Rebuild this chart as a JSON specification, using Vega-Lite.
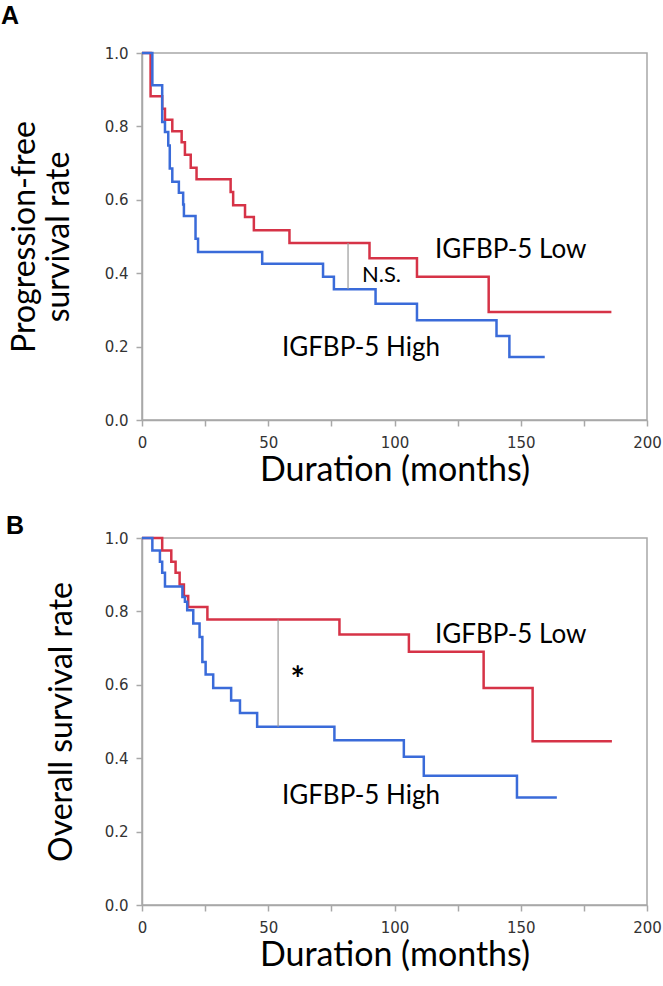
{
  "$schema": "https://vega.github.io/schema/vega-lite/v6.json",
  "background": "white",
  "padding": {"left": 0, "top": 3, "right": 0, "bottom": 0},
  "autosize": {"type": "pad"},
  "spacing": 118,
  "bounds": "flush",
  "config": {
    "view": {"stroke": "#a8a8a8", "strokeWidth": 1.5},
    "axis": {
      "grid": false,
      "domainColor": "#a8a8a8",
      "domainWidth": 1.5,
      "tickColor": "#a8a8a8",
      "tickWidth": 1.5,
      "tickSize": 6,
      "labelFont": "DejaVu Sans",
      "labelFontSize": 15,
      "labelColor": "#333333",
      "labelFlush": false,
      "titleFont": "Lato",
      "titleFontSize": 32,
      "titleFontWeight": "normal",
      "titleColor": "black"
    }
  },
  "datasets": {
    "km": [
      {"panel": "A", "group": "Low", "t": 0, "s": 1.0},
      {"panel": "A", "group": "Low", "t": 3.4, "s": 0.882},
      {"panel": "A", "group": "Low", "t": 8.0, "s": 0.848},
      {"panel": "A", "group": "Low", "t": 9.1, "s": 0.818},
      {"panel": "A", "group": "Low", "t": 12.0, "s": 0.787},
      {"panel": "A", "group": "Low", "t": 15.7, "s": 0.757},
      {"panel": "A", "group": "Low", "t": 17.0, "s": 0.723},
      {"panel": "A", "group": "Low", "t": 19.3, "s": 0.687},
      {"panel": "A", "group": "Low", "t": 21.6, "s": 0.656},
      {"panel": "A", "group": "Low", "t": 35.1, "s": 0.621},
      {"panel": "A", "group": "Low", "t": 36.1, "s": 0.585},
      {"panel": "A", "group": "Low", "t": 40.8, "s": 0.553},
      {"panel": "A", "group": "Low", "t": 44.3, "s": 0.517},
      {"panel": "A", "group": "Low", "t": 58.4, "s": 0.482},
      {"panel": "A", "group": "Low", "t": 90.1, "s": 0.441},
      {"panel": "A", "group": "Low", "t": 108.9, "s": 0.390},
      {"panel": "A", "group": "Low", "t": 137.3, "s": 0.294},
      {"panel": "A", "group": "Low", "t": 185.9, "s": 0.294},
      {"panel": "A", "group": "High", "t": 0, "s": 1.0},
      {"panel": "A", "group": "High", "t": 4.1, "s": 0.912},
      {"panel": "A", "group": "High", "t": 8.0, "s": 0.812},
      {"panel": "A", "group": "High", "t": 9.1, "s": 0.785},
      {"panel": "A", "group": "High", "t": 10.4, "s": 0.748},
      {"panel": "A", "group": "High", "t": 11.0, "s": 0.685},
      {"panel": "A", "group": "High", "t": 12.0, "s": 0.649},
      {"panel": "A", "group": "High", "t": 14.6, "s": 0.619},
      {"panel": "A", "group": "High", "t": 16.3, "s": 0.587},
      {"panel": "A", "group": "High", "t": 16.6, "s": 0.556},
      {"panel": "A", "group": "High", "t": 21.2, "s": 0.494},
      {"panel": "A", "group": "High", "t": 22.2, "s": 0.458},
      {"panel": "A", "group": "High", "t": 47.6, "s": 0.426},
      {"panel": "A", "group": "High", "t": 71.7, "s": 0.390},
      {"panel": "A", "group": "High", "t": 76.0, "s": 0.356},
      {"panel": "A", "group": "High", "t": 92.5, "s": 0.317},
      {"panel": "A", "group": "High", "t": 108.9, "s": 0.272},
      {"panel": "A", "group": "High", "t": 140.4, "s": 0.229},
      {"panel": "A", "group": "High", "t": 145.5, "s": 0.172},
      {"panel": "A", "group": "High", "t": 159.5, "s": 0.172},
      {"panel": "B", "group": "Low", "t": 0, "s": 1.0},
      {"panel": "B", "group": "Low", "t": 8.0, "s": 0.966},
      {"panel": "B", "group": "Low", "t": 11.6, "s": 0.935},
      {"panel": "B", "group": "Low", "t": 13.3, "s": 0.905},
      {"panel": "B", "group": "Low", "t": 14.9, "s": 0.873},
      {"panel": "B", "group": "Low", "t": 16.6, "s": 0.842},
      {"panel": "B", "group": "Low", "t": 18.3, "s": 0.812},
      {"panel": "B", "group": "Low", "t": 25.9, "s": 0.778},
      {"panel": "B", "group": "Low", "t": 78.2, "s": 0.737},
      {"panel": "B", "group": "Low", "t": 105.7, "s": 0.690},
      {"panel": "B", "group": "Low", "t": 135.3, "s": 0.591},
      {"panel": "B", "group": "Low", "t": 154.7, "s": 0.446},
      {"panel": "B", "group": "Low", "t": 186.1, "s": 0.446},
      {"panel": "B", "group": "High", "t": 0, "s": 1.0},
      {"panel": "B", "group": "High", "t": 4.1, "s": 0.966},
      {"panel": "B", "group": "High", "t": 7.1, "s": 0.935},
      {"panel": "B", "group": "High", "t": 8.0, "s": 0.905},
      {"panel": "B", "group": "High", "t": 9.1, "s": 0.868},
      {"panel": "B", "group": "High", "t": 16.0, "s": 0.839},
      {"panel": "B", "group": "High", "t": 17.0, "s": 0.826},
      {"panel": "B", "group": "High", "t": 17.9, "s": 0.803},
      {"panel": "B", "group": "High", "t": 20.3, "s": 0.767},
      {"panel": "B", "group": "High", "t": 22.8, "s": 0.730},
      {"panel": "B", "group": "High", "t": 23.9, "s": 0.662},
      {"panel": "B", "group": "High", "t": 25.2, "s": 0.628},
      {"panel": "B", "group": "High", "t": 28.2, "s": 0.591},
      {"panel": "B", "group": "High", "t": 35.3, "s": 0.557},
      {"panel": "B", "group": "High", "t": 38.8, "s": 0.523},
      {"panel": "B", "group": "High", "t": 45.6, "s": 0.486},
      {"panel": "B", "group": "High", "t": 76.2, "s": 0.449},
      {"panel": "B", "group": "High", "t": 103.7, "s": 0.404},
      {"panel": "B", "group": "High", "t": 111.6, "s": 0.352},
      {"panel": "B", "group": "High", "t": 148.5, "s": 0.293},
      {"panel": "B", "group": "High", "t": 164.3, "s": 0.293}
    ],
    "sig": [
      {"panel": "A", "t": 81.6, "s1": 0.482, "s2": 0.357},
      {"panel": "B", "t": 53.9, "s1": 0.778, "s2": 0.486}
    ],
    "labels": [
      {"panel": "A", "text": "IGFBP-5 Low", "t": 116, "s": 0.441},
      {"panel": "A", "text": "IGFBP-5 High", "t": 55.4, "s": 0.175},
      {"panel": "B", "text": "IGFBP-5 Low", "t": 116, "s": 0.714},
      {"panel": "B", "text": "IGFBP-5 High", "t": 55.4, "s": 0.275}
    ],
    "marks": [
      {"panel": "A", "text": "N.S.", "t": 87.1, "s": 0.376},
      {"panel": "B", "text": "*", "t": 61.7, "s": 0.584}
    ]
  },
  "vconcat": [
    {
      "width": 505,
      "height": 367,
      "title": {"text": "A", "anchor": "start", "frame": "group", "dx": -141, "offset": -3, "baseline": "alphabetic", "font": "Liberation Sans", "fontSize": 25, "fontWeight": "bold", "color": "black"},
      "layer": [
        {
          "data": {"name": "km"},
          "transform": [{"filter": "datum.panel == 'A'"}],
          "mark": {"type": "line", "interpolate": "step-after", "strokeWidth": 2.5},
          "encoding": {
            "x": {"field": "t", "type": "quantitative", "scale": {"domain": [0, 200], "nice": false},
                  "axis": {"title": "Duration (months)", "titleFontSize": 34, "values": [0, 25, 50, 75, 100, 125, 150, 175, 200], "labelExpr": "datum.value % 50 == 0 ? datum.label : ''", "labelPadding": 9, "titlePadding": 3}},
            "y": {"field": "s", "type": "quantitative", "scale": {"domain": [0, 1], "nice": false},
                  "axis": {"title": ["Progression-free", "survival rate"], "values": [0, 0.1, 0.2, 0.3, 0.4, 0.5, 0.6, 0.7, 0.8, 0.9, 1.0], "format": ".1f", "labelExpr": "round(datum.value * 10) % 2 == 0 ? datum.label : ''", "labelPadding": 8, "titleX": -101, "titleY": 183.5, "titleBaseline": "bottom", "titleAlign": "center", "titleAngle": -90, "titleLineHeight": 34}},
            "color": {"field": "group", "type": "nominal", "scale": {"domain": ["High", "Low"], "range": ["#3a6bd9", "#d63347"]}, "legend": null}
          }
        },
        {
          "data": {"name": "sig"},
          "transform": [{"filter": "datum.panel == 'A'"}],
          "mark": {"type": "rule", "color": "#9a9a9a", "strokeWidth": 1.2},
          "encoding": {"x": {"field": "t", "type": "quantitative"}, "y": {"field": "s1", "type": "quantitative"}, "y2": {"field": "s2"}}
        },
        {
          "data": {"name": "labels"},
          "transform": [{"filter": "datum.panel == 'A'"}],
          "mark": {"type": "text", "align": "left", "baseline": "alphabetic", "font": "Lato", "fontSize": 26, "color": "black"},
          "encoding": {"x": {"field": "t", "type": "quantitative"}, "y": {"field": "s", "type": "quantitative"}, "text": {"field": "text"}}
        },
        {
          "data": {"name": "marks"},
          "transform": [{"filter": "datum.panel == 'A'"}],
          "mark": {"type": "text", "align": "left", "baseline": "alphabetic", "font": "Lato", "fontSize": 22, "color": "black"},
          "encoding": {"x": {"field": "t", "type": "quantitative"}, "y": {"field": "s", "type": "quantitative"}, "text": {"field": "text"}}
        }
      ]
    },
    {
      "width": 505,
      "height": 367,
      "title": {"text": "B", "anchor": "start", "frame": "group", "dx": -136, "offset": -28, "baseline": "alphabetic", "font": "Liberation Sans", "fontSize": 25, "fontWeight": "bold", "color": "black"},
      "layer": [
        {
          "data": {"name": "km"},
          "transform": [{"filter": "datum.panel == 'B'"}],
          "mark": {"type": "line", "interpolate": "step-after", "strokeWidth": 2.5},
          "encoding": {
            "x": {"field": "t", "type": "quantitative", "scale": {"domain": [0, 200], "nice": false},
                  "axis": {"title": "Duration (months)", "titleFontSize": 34, "values": [0, 25, 50, 75, 100, 125, 150, 175, 200], "labelExpr": "datum.value % 50 == 0 ? datum.label : ''", "labelPadding": 9, "titlePadding": 3}},
            "y": {"field": "s", "type": "quantitative", "scale": {"domain": [0, 1], "nice": false},
                  "axis": {"title": "Overall survival rate", "values": [0, 0.1, 0.2, 0.3, 0.4, 0.5, 0.6, 0.7, 0.8, 0.9, 1.0], "format": ".1f", "labelExpr": "round(datum.value * 10) % 2 == 0 ? datum.label : ''", "labelPadding": 8, "titleX": -64, "titleY": 183.5, "titleBaseline": "bottom", "titleAlign": "center", "titleAngle": -90}},
            "color": {"field": "group", "type": "nominal", "scale": {"domain": ["High", "Low"], "range": ["#3a6bd9", "#d63347"]}, "legend": null}
          }
        },
        {
          "data": {"name": "sig"},
          "transform": [{"filter": "datum.panel == 'B'"}],
          "mark": {"type": "rule", "color": "#9a9a9a", "strokeWidth": 1.2},
          "encoding": {"x": {"field": "t", "type": "quantitative"}, "y": {"field": "s1", "type": "quantitative"}, "y2": {"field": "s2"}}
        },
        {
          "data": {"name": "labels"},
          "transform": [{"filter": "datum.panel == 'B'"}],
          "mark": {"type": "text", "align": "left", "baseline": "alphabetic", "font": "Lato", "fontSize": 26, "color": "black"},
          "encoding": {"x": {"field": "t", "type": "quantitative"}, "y": {"field": "s", "type": "quantitative"}, "text": {"field": "text"}}
        },
        {
          "data": {"name": "marks"},
          "transform": [{"filter": "datum.panel == 'B'"}],
          "mark": {"type": "text", "align": "center", "baseline": "alphabetic", "font": "Lato", "fontSize": 34, "fontWeight": "bold", "color": "black"},
          "encoding": {"x": {"field": "t", "type": "quantitative"}, "y": {"field": "s", "type": "quantitative"}, "text": {"field": "text"}}
        }
      ]
    }
  ]
}
